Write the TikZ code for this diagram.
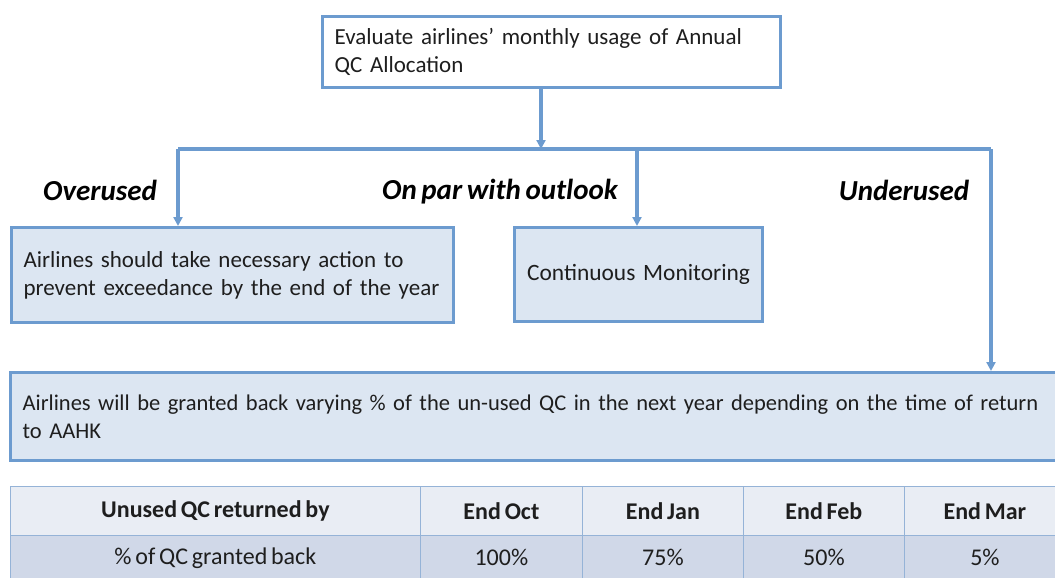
\documentclass[tikz,border=0pt]{standalone}
\usepackage{fontspec}
\setmainfont{Carlito}[WordSpace=0.7]
\usetikzlibrary{arrows.meta}

\definecolor{edgeblue}{RGB}{108,155,207}
\definecolor{boxfill}{RGB}{220,230,242}
\definecolor{headfill}{RGB}{233,237,244}
\definecolor{rowfill}{RGB}{208,216,232}
\definecolor{gridblue}{RGB}{149,179,215}
\definecolor{inktext}{RGB}{30,30,30}

\begin{document}
\begin{tikzpicture}[x=1pt,y=-1pt,
  every node/.style={font=\fontsize{22.5}{28}\selectfont,text=inktext},
  box/.style={draw=edgeblue,line width=3.2pt,fill=boxfill,anchor=north west,inner xsep=12pt,inner ysep=0pt},
  link/.style={draw=edgeblue,line width=3.2pt},
  flow/.style={link,-{Triangle[length=9pt,width=9pt]}},
  branch/.style={font=\fontsize{29}{32}\selectfont\bfseries\itshape,text=black},
  cell/.style={draw=gridblue,line width=0.8pt,anchor=north west,inner sep=0pt,
    font=\fontsize{24}{26}\selectfont}]
\useasboundingbox (0,0) rectangle (1055,578);

% decision boxes
\node[box,fill=white,minimum width=458,minimum height=71,text width=434,align=left,
  font=\fontsize{23}{28}\selectfont] (eval) at (321,15)
  {Evaluate airlines' monthly usage of Annual\\QC Allocation};
\node[box,minimum width=442,minimum height=95,text width=418,align=left,
  font=\fontsize{23}{28}\selectfont] (over) at (10,226)
  {Airlines should take necessary action to\\prevent exceedance by the end of the year};
\node[box,minimum width=248,minimum height=94,text width=224,align=center,
  font=\fontsize{23.4}{28}\selectfont] (par) at (513,226)
  {Continuous Monitoring};
\node[box,minimum width=1060,minimum height=88,text width=1036,align=left] (under) at (9,371)
  {Airlines will be granted back varying \% of the un-used QC in the next year depending on the time of return\\to AAHK};

% branch labels
\node[branch] (lblOver) at (100,190) {Overused};
\node[branch] (lblPar) at (500,192) {On par with outlook};
\node[branch] (lblUnder) at (904,190) {Underused};

% connectors
\coordinate (split) at (541,149);
\coordinate (busL) at (178,149);
\coordinate (busM) at (637,149);
\coordinate (busR) at (991,149);
\draw[link] (busL) -- (busR);
\draw[flow] (eval.south -| split) -- (split);
\draw[flow] (busL) -- (over.north -| busL);
\draw[flow] (busM) -- (par.north -| busM);
\draw[flow] (busR) -- (under.north -| busR);

% return table
\foreach \cx/\cw/\head/\val [count=\i] in {10/410/Unused QC returned by/\% of QC granted back,
    420/162/End Oct/100\%, 582/161/End Jan/75\%, 743/161/End Feb/50\%, 904/161/End Mar/5\%}{
  \node[cell,fill=headfill,minimum width=\cw,minimum height=49] (head\i) at (\cx,486) {\bfseries\head};
  \node[cell,fill=rowfill,minimum width=\cw,minimum height=45] (val\i) at (\cx,535) {\val};
}
\end{tikzpicture}
\end{document}
